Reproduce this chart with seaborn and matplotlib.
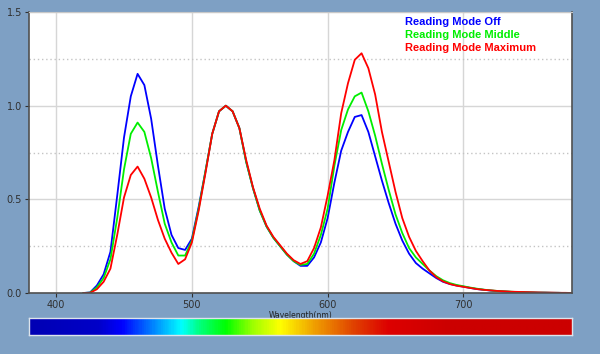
import numpy as np
import pandas as pd
import matplotlib
matplotlib.use('Agg')
import matplotlib.pyplot as plt
from matplotlib.colors import LinearSegmentedColormap
from matplotlib.ticker import MultipleLocator
import seaborn as sns

# wavelength grid (nm) and relative intensity
wavelength = list(range(420, 785, 5))

mode_off = [0.0, 0.003, 0.04, 0.10, 0.22, 0.52, 0.83, 1.05, 1.17, 1.11,
            0.93, 0.68, 0.45, 0.31, 0.24, 0.23, 0.29, 0.46, 0.65, 0.85,
            0.97, 1.00, 0.97, 0.88, 0.70, 0.56, 0.44, 0.355, 0.295, 0.25,
            0.205, 0.17, 0.145, 0.145, 0.19, 0.27, 0.40, 0.59, 0.76, 0.86,
            0.94, 0.95, 0.86, 0.73, 0.60, 0.48, 0.37, 0.28, 0.21, 0.16,
            0.13, 0.105, 0.08, 0.06, 0.048, 0.04, 0.034, 0.027, 0.021, 0.017,
            0.013, 0.010, 0.008, 0.006, 0.005, 0.004, 0.003, 0.002, 0.002, 0.001,
            0.001, 0.0, 0.0]

mode_middle = [0.0, 0.002, 0.03, 0.08, 0.18, 0.40, 0.66, 0.85, 0.91, 0.86,
               0.72, 0.54, 0.37, 0.27, 0.20, 0.20, 0.28, 0.45, 0.65, 0.85,
               0.97, 1.00, 0.97, 0.88, 0.70, 0.56, 0.44, 0.355, 0.295, 0.25,
               0.205, 0.17, 0.15, 0.155, 0.21, 0.31, 0.45, 0.68, 0.87, 0.98,
               1.05, 1.07, 0.97, 0.84, 0.69, 0.55, 0.42, 0.32, 0.24, 0.19,
               0.155, 0.12, 0.09, 0.068, 0.053, 0.043, 0.036, 0.029, 0.023, 0.018,
               0.014, 0.011, 0.009, 0.007, 0.005, 0.004, 0.003, 0.002, 0.002, 0.001,
               0.001, 0.0, 0.0]

mode_max = [0.0, 0.001, 0.02, 0.06, 0.13, 0.31, 0.51, 0.63, 0.675, 0.61,
            0.51, 0.39, 0.29, 0.215, 0.155, 0.18, 0.27, 0.44, 0.64, 0.85,
            0.97, 1.00, 0.97, 0.88, 0.71, 0.565, 0.45, 0.36, 0.30, 0.255,
            0.21, 0.175, 0.155, 0.17, 0.24, 0.35, 0.52, 0.71, 0.96, 1.12,
            1.245, 1.28, 1.20, 1.06, 0.86, 0.70, 0.54, 0.40, 0.30, 0.225,
            0.17, 0.12, 0.085, 0.062, 0.048, 0.039, 0.033, 0.027, 0.021, 0.017,
            0.014, 0.011, 0.009, 0.007, 0.006, 0.005, 0.004, 0.003, 0.002, 0.002,
            0.001, 0.001, 0.0]

series_names = ['Reading Mode Off', 'Reading Mode Middle', 'Reading Mode Maximum']
series_colors = ['#0000ff', '#00ee00', '#ff0000']

# spectrum bar under the chart
bar_wavelengths = [380, 430, 448, 470, 492, 505, 525, 545, 565, 590, 620, 645, 690, 780]
bar_colors = ['#0000b4', '#0000c8', '#0000ff', '#0080ff', '#00ffff', '#00ff80', '#00ff00',
              '#a0ff00', '#ffff00', '#f0a000', '#e04000', '#dd0000', '#cc0000', '#cc0000']

bg = '#7ea0c4'

df = pd.DataFrame({'wavelength': wavelength * 3,
                   'value': mode_off + mode_middle + mode_max,
                   'mode': [n for n in series_names for _ in wavelength]})

sns.set_style('white')
fig = plt.figure(figsize=(6, 3.54), dpi=100)
fig.patch.set_facecolor(bg)

ax = fig.add_axes([0.0483, 0.1723, 0.905, 0.7937])
ax.set_facecolor('white')

sns.lineplot(data=df, x='wavelength', y='value', hue='mode',
             palette=dict(zip(series_names, series_colors)),
             linewidth=1.3, legend=False, ax=ax)

ax.set_xlim(380, 780)
ax.set_ylim(0, 1.5)
ax.set_yticks([0, 0.5, 1.0, 1.5])
ax.set_yticklabels(['0.0', '0.5', '1.0', '1.5'])
ax.yaxis.set_minor_locator(MultipleLocator(0.25))
ax.set_xticks([400, 500, 600, 700])
ax.grid(True, which='major', axis='both', color='#d6d6d6', lw=1.0)
ax.grid(True, which='minor', axis='y', color='#c4c4c4', lw=1.0, ls=(0, (1, 2)))
ax.set_axisbelow(True)

ax.tick_params(axis='both', which='major', labelsize=7, colors='#303030',
               length=3, width=0.8, direction='out', pad=2)
ax.tick_params(axis='y', which='minor', length=0)
ax.tick_params(left=True, bottom=True)
ax.set_xlabel('Wavelength(nm)', fontsize=5.5, color='#202020', labelpad=1)
ax.set_ylabel('')

for side in ['left', 'bottom', 'right']:
    ax.spines[side].set_color('#505050')
    ax.spines[side].set_linewidth(1.2)
ax.spines['top'].set_color('#c8c8c8')
ax.spines['top'].set_linewidth(0.8)

for i, (name, col) in enumerate(zip(series_names, series_colors)):
    ax.text(0.692, 0.965 - i * 0.047, name, transform=ax.transAxes, color=col,
            fontsize=8, fontweight='bold', family='Liberation Sans', va='center')

# spectrum colour bar
cax = fig.add_axes([0.0483, 0.0537, 0.905, 0.048])
cmap = LinearSegmentedColormap.from_list(
    'spec', [((w - 380) / 400, c) for w, c in zip(bar_wavelengths, bar_colors)])
grad = np.linspace(0, 1, 600).reshape(1, -1)
cax.imshow(grad, aspect='auto', cmap=cmap, extent=[380, 780, 0, 1])
cax.set_xticks([])
cax.set_yticks([])
for s in cax.spines.values():
    s.set_color('#dde4ec')
    s.set_linewidth(1.0)

fig.savefig('out.png', dpi=100, facecolor=bg)
